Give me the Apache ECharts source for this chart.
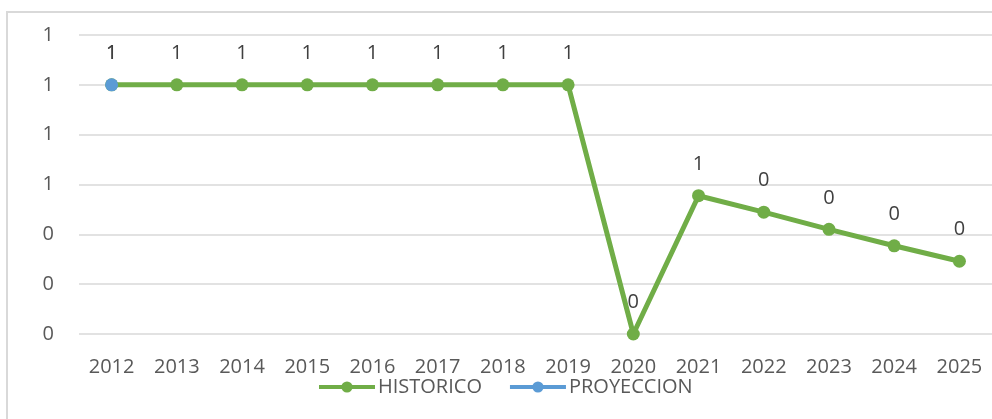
<!DOCTYPE html>
<html>
<head>
<meta charset="utf-8">
<script src="https://cdn.jsdelivr.net/npm/echarts@6/dist/echarts.min.js"></script>
<style>
    html, body { margin: 0; padding: 0; background: #fff; }
    #chart { width: 992px; height: 419px; }
</style>
</head>
<body>
<div id="chart"></div>
<script>
// Data
var years = ['2012', '2013', '2014', '2015', '2016', '2017', '2018', '2019', '2020', '2021', '2022', '2023', '2024', '2025'];
var historico = [1, 1, 1, 1, 1, 1, 1, 1, 0, 0.555, 0.489, 0.42, 0.354, 0.292];
var proyeccion = [1, null, null, null, null, null, null, null, null, null, null, null, null, null];

var chart = echarts.init(document.getElementById('chart'));

// Labels are shown rounded to whole numbers, like the source
var roundLabel = {
    show: true,
    position: 'top',
    distance: 15,
    color: '#404040',
    fontSize: 20,
    formatter: function (p) { return Math.round(p.value); }
};

chart.setOption({
    animation: false,
    textStyle: {
        fontFamily: '"Open Sans", "Noto Sans", sans-serif'
    },
    graphic: [{
        type: 'rect',
        shape: { x: 7, y: 12, width: 1000, height: 430 },
        style: { fill: 'none', stroke: '#d9d9d9', lineWidth: 2 },
        silent: true
    }],
    grid: {
        left: 79,
        right: -3,
        top: 35,
        bottom: 85
    },
    legend: {
        data: ['HISTORICO', 'PROYECCION'],
        top: 372,
        left: 312,
        itemWidth: 56,
        itemHeight: 14,
        itemGap: 26,
        lineStyle: { width: 4 },
        textStyle: { color: '#595959', fontSize: 20, padding: [0, 0, 0, -2] }
    },
    xAxis: {
        type: 'category',
        data: years,
        boundaryGap: true,
        axisLine: { show: false },
        axisTick: { show: false },
        axisLabel: { color: '#595959', fontSize: 20, margin: 23 }
    },
    yAxis: {
        type: 'value',
        min: 0,
        max: 1.2,
        interval: 0.2,
        axisLabel: {
            color: '#595959',
            fontSize: 20,
            margin: 25,
            formatter: function (v) { return Math.round(v); }
        },
        splitLine: { lineStyle: { color: '#d9d9d9', width: 1.5 } }
    },
    series: [
        {
            name: 'HISTORICO',
            type: 'line',
            data: historico,
            symbol: 'circle',
            symbolSize: 13,
            lineStyle: { color: '#70ad47', width: 5 },
            itemStyle: { color: '#70ad47' },
            label: roundLabel
        },
        {
            name: 'PROYECCION',
            type: 'line',
            data: proyeccion,
            symbol: 'circle',
            symbolSize: 13,
            lineStyle: { color: '#5b9bd5', width: 5 },
            itemStyle: { color: '#5b9bd5' },
            label: roundLabel
        }
    ]
});
</script>
</body>
</html>
